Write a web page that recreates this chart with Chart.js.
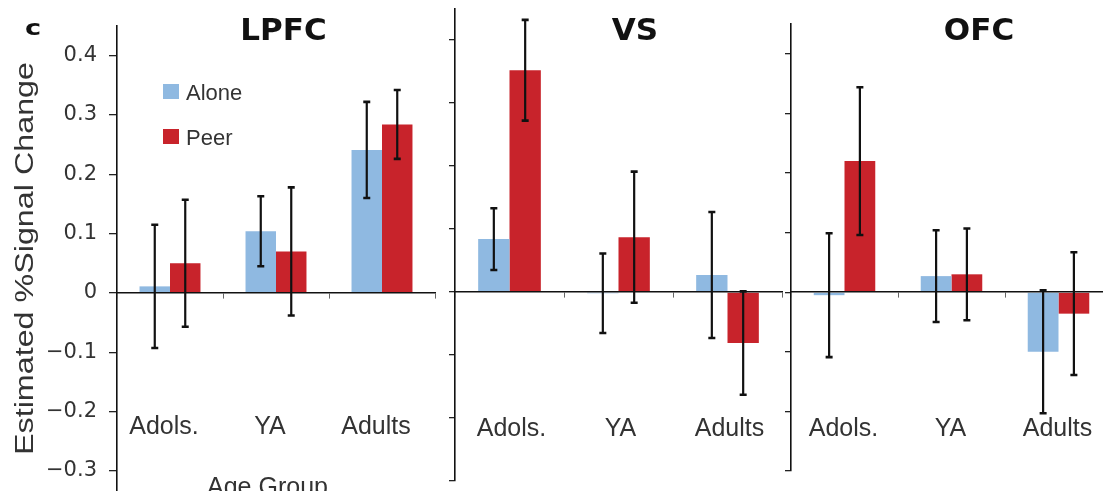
<!DOCTYPE html>
<html>
<head>
<meta charset="utf-8">
<script src="https://cdn.jsdelivr.net/npm/chart.js@4.4.1/dist/chart.umd.min.js"></script>
<style>
  html, body { margin: 0; padding: 0; background: #fff; overflow: hidden; width: 1103px; height: 491px; }
  #wrap { position: relative; width: 1103px; height: 491px; overflow: hidden; }
  canvas { position: absolute; top: 0; }
</style>
</head>
<body>
<div id="wrap">
  <canvas id="lpfc" width="440" height="491" style="left:0px"></canvas>
  <canvas id="vs" width="345" height="491" style="left:440px"></canvas>
  <canvas id="ofc" width="340" height="491" style="left:776px"></canvas>
</div>
<script>
// Age groups and conditions
const categories = ['Adols.', 'YA', 'Adults'];
const seriesNames = ['Alone', 'Peer'];
const seriesColors = ['#8fb9e1', '#c8232b'];

// Estimated % signal change (mean) and standard error, per region
const lpfcAlone = [0.011, 0.104, 0.241];
const lpfcAloneErr = [0.104, 0.059, 0.081];
const lpfcPeer = [0.050, 0.070, 0.284];
const lpfcPeerErr = [0.107, 0.108, 0.058];

const vsAlone = [0.084, -0.002, 0.027];
const vsAloneErr = [0.049, 0.063, 0.100];
const vsPeer = [0.352, 0.087, -0.081];
const vsPeerErr = [0.080, 0.104, 0.082];

const ofcAlone = [-0.005, 0.027, -0.100];
const ofcAloneErr = [0.104, 0.077, 0.103];
const ofcPeer = [0.220, 0.030, -0.036];
const ofcPeerErr = [0.124, 0.077, 0.103];

// Value-axis ticks
const yTicks = [-0.3, -0.2, -0.1, 0, 0.1, 0.2, 0.3, 0.4];

function fmtTick(v) {
  if (Math.abs(v) < 1e-9) return '0';
  return (v < 0 ? '\u2212' : '') + Math.abs(v).toFixed(1);
}

// Whisker plugin: draws ± error around each bar using the value scale
const errorBars = {
  id: 'errorBars',
  afterDatasetsDraw(chart, args, o) {
    const ctx = chart.ctx, ys = chart.scales.y;
    chart.data.datasets.forEach((ds, d) => {
      const meta = chart.getDatasetMeta(d);
      meta.data.forEach((bar, i) => {
        const v = ds.data[i], e = ds.errors[i];
        const top = ys.getPixelForValue(v + e), bot = ys.getPixelForValue(v - e);
        const x = bar.x;
        ctx.save();
        ctx.strokeStyle = o.color;
        ctx.lineWidth = o.width;
        ctx.beginPath();
        ctx.moveTo(x, top); ctx.lineTo(x, bot);
        ctx.stroke();
        ctx.lineWidth = o.capThickness;
        ctx.beginPath();
        ctx.moveTo(x - o.cap / 2, top); ctx.lineTo(x + o.cap / 2, top);
        ctx.moveTo(x - o.cap / 2, bot); ctx.lineTo(x + o.cap / 2, bot);
        ctx.stroke();
        ctx.restore();
      });
    });
  }
};

// Panel heading, panel letter, axis titles and legend
const panelDecor = {
  id: 'panelDecor',
  afterDraw(chart, args, o) {
    const ctx = chart.ctx, area = chart.chartArea;
    ctx.save();
    ctx.fillStyle = '#111';
    ctx.font = 'bold 31px "DejaVu Sans"';
    ctx.textAlign = 'center';
    ctx.textBaseline = 'alphabetic';
    ctx.fillText(o.title, area.left + o.titleX, o.titleBaseline);

    if (o.letter) {
      ctx.save();
      ctx.font = 'bold 21px "DejaVu Sans"';
      ctx.textAlign = 'left';
      ctx.translate(o.letter.x, o.letter.y);
      ctx.scale(1.3, 1);
      ctx.fillText(o.letter.text, 0, 0);
      ctx.restore();
    }

    if (o.yTitle) {
      const t = o.yTitle;
      ctx.save();
      ctx.fillStyle = '#333';
      ctx.translate(t.x, t.y);
      ctx.rotate(-Math.PI / 2);
      ctx.font = '25px "Liberation Sans"';
      const w = ctx.measureText(t.text).width;
      ctx.scale(t.length / w, 1);
      ctx.textAlign = 'center';
      ctx.fillText(t.text, 0, 0);
      ctx.restore();
    }

    if (o.xTitle) {
      ctx.fillStyle = '#333';
      ctx.font = '25px "Liberation Sans"';
      ctx.textAlign = 'center';
      ctx.fillText(o.xTitle.text, o.xTitle.x, o.xTitle.y);
    }

    if (o.legend) {
      const L = o.legend;
      ctx.font = '22px "Liberation Sans"';
      ctx.textAlign = 'left';
      chart.data.datasets.forEach((ds, i) => {
        const y = L.y + i * L.gap;
        ctx.fillStyle = ds.backgroundColor;
        ctx.fillRect(L.x, y, L.box, L.box - 1);
        ctx.fillStyle = '#333';
        ctx.fillText(ds.label, L.x + L.box + 7, y + L.box);
      });
    }
    ctx.restore();
  }
};

const panels = [
  { id: 'lpfc', title: 'LPFC', alone: lpfcAlone, aloneErr: lpfcAloneErr, peer: lpfcPeer, peerErr: lpfcPeerErr,
    min: -0.334, max: 0.45, axisWidth: 117, pad: { left: 0, top: 26, right: 5, bottom: 0 },
    showTickLabels: true, tickLen: 8, labelPad: 114.5, labelOffset: -6, titleX: 166.5, first: true },
  { id: 'vs', title: 'VS', alone: vsAlone, aloneErr: vsAloneErr, peer: vsPeer, peerErr: vsPeerErr,
    min: -0.3, max: 0.45, axisWidth: 15, pad: { left: 0, top: 8.5, right: 3, bottom: 10 },
    showTickLabels: false, tickLen: 6, labelPad: 117.5, labelOffset: 2, titleX: 180 },
  { id: 'ofc', title: 'OFC', alone: ofcAlone, aloneErr: ofcAloneErr, peer: ofcPeer, peerErr: ofcPeerErr,
    min: -0.3, max: 0.45, axisWidth: 15, pad: { left: 0, top: 24, right: 4, bottom: 20 },
    showTickLabels: false, tickLen: 6, labelPad: 117, labelOffset: -1, titleX: 188 }
];

panels.forEach(p => {
  const decor = { title: p.title, titleX: p.titleX, titleBaseline: 40 };
  if (p.first) {
    decor.letter = { text: 'c', x: 25, y: 35 };
    decor.yTitle = { text: 'Estimated %Signal Change', x: 33, y: 258.5, length: 393 };
    decor.xTitle = { text: 'Age Group', x: 267.5, y: 495 };
    decor.legend = { x: 163, y: 84, gap: 45, box: 16 };
  }

  new Chart(document.getElementById(p.id), {
    type: 'bar',
    data: {
      labels: categories,
      datasets: [
        { label: seriesNames[0], data: p.alone, errors: p.aloneErr, backgroundColor: seriesColors[0], borderWidth: 0 },
        { label: seriesNames[1], data: p.peer, errors: p.peerErr, backgroundColor: seriesColors[1], borderWidth: 0 }
      ]
    },
    options: {
      responsive: false,
      animation: false,
      events: [],
      layout: { padding: p.pad },
      datasets: { bar: { categoryPercentage: 0.575, barPercentage: 1.0 } },
      scales: {
        x: {
          position: { y: 0 },
          offset: true,
          grid: { display: true, offset: true, drawOnChartArea: false, drawTicks: true, tickLength: 5,
                  color: '#666', lineWidth: 1, z: 1 },
          border: { display: true, color: '#111', width: 1.6, z: 1 },
          ticks: { color: '#333', font: { family: 'Liberation Sans', size: 25 }, padding: p.labelPad,
                   labelOffset: p.labelOffset, maxRotation: 0, minRotation: 0, autoSkip: false },
          afterFit(s) { s.paddingLeft = 0; s.paddingRight = 0; }
        },
        y: {
          min: p.min,
          max: p.max,
          afterBuildTicks(s) { s.ticks = yTicks.map(v => ({ value: v })); },
          afterFit(s) { s.width = p.axisWidth; s.paddingTop = 0; s.paddingBottom = 0; },
          grid: { display: true, drawOnChartArea: false, drawTicks: true, tickLength: p.tickLen,
                  color: '#222', lineWidth: 1.3 },
          border: { display: true, color: '#111', width: 1.6 },
          ticks: { display: p.showTickLabels, color: '#333', padding: 12,
                   font: { family: 'DejaVu Sans', size: 21 }, callback: v => fmtTick(v) }
        }
      },
      plugins: {
        legend: { display: false },
        tooltip: { enabled: false },
        title: { display: false },
        errorBars: { color: '#111', width: 2.2, cap: 7, capThickness: 2.6 },
        panelDecor: decor
      }
    },
    plugins: [errorBars, panelDecor]
  });
});
</script>
</body>
</html>
